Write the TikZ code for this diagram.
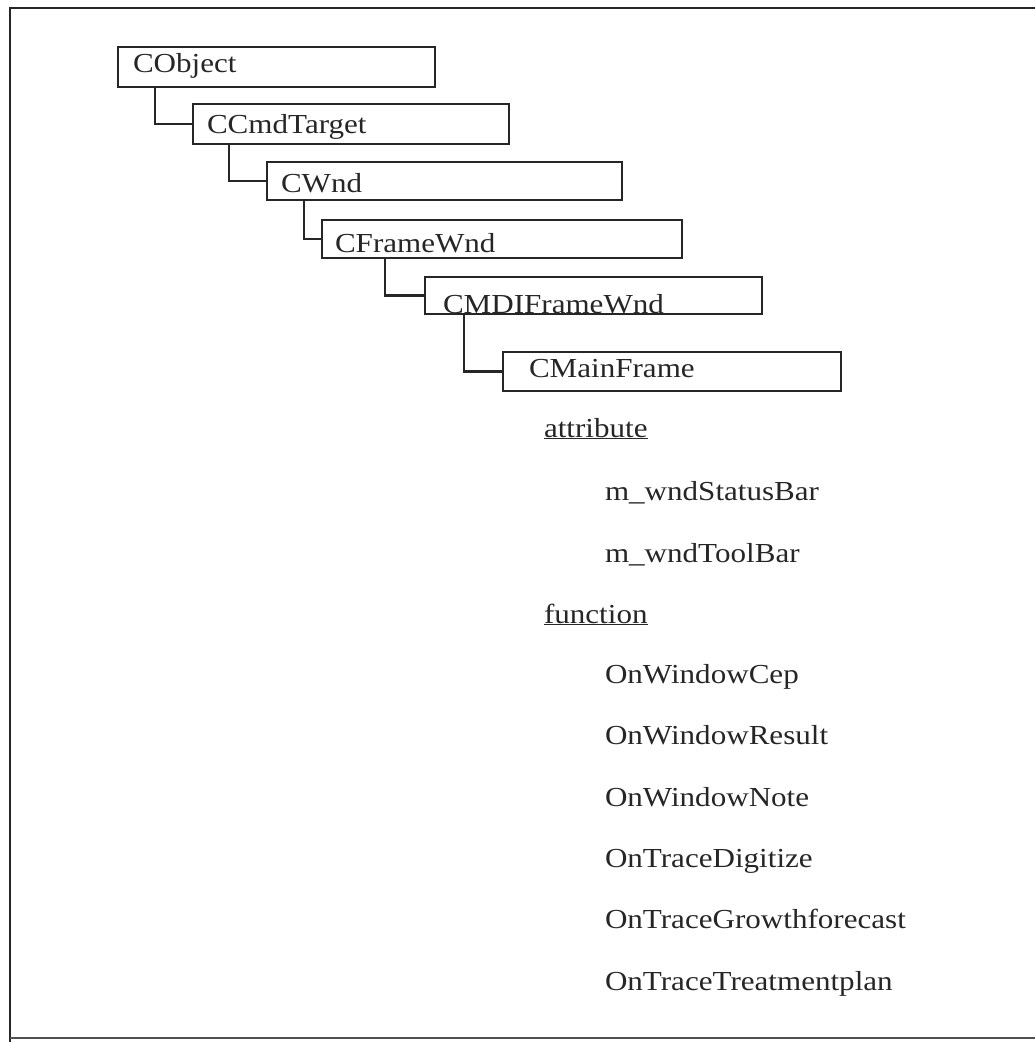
\documentclass[tikz,border=0pt]{standalone}
\usepackage{fontspec}
\setmainfont{Liberation Serif}[FakeStretch=1.13]
\definecolor{ink}{HTML}{262626}
\begin{document}
\begin{tikzpicture}[x=1pt,y=-1pt,
  every node/.style={text=ink, font=\fontsize{27.5}{30}\selectfont, inner sep=0pt, outer sep=0pt},
  cls/.style={draw=ink, anchor=north west, line width=2.2pt},
  title/.style={anchor=base west},
  member/.style={anchor=base west},
  link/.style={draw=ink, line width=2.2pt}]
\useasboundingbox (0,0) rectangle (1035,1042);

% outer frame (open on the right)
\draw[ink, line width=2pt] (1035,8) -- (10,8) -- (10,1042);
\draw[ink!80, line width=1.8pt] (10,1038) -- (1035,1038);

% class boxes
\node[cls, minimum width=317, minimum height=40] (obj)  at (118,47)  {};
\node[cls, minimum width=316, minimum height=40] (cmd)  at (193,104) {};
\node[cls, minimum width=355, minimum height=38] (wnd)  at (267,162) {};
\node[cls, minimum width=360, minimum height=38] (frm)  at (322,220) {};
\node[cls, minimum width=337, minimum height=37] (mdi)  at (425,277) {};
\node[cls, minimum width=338, minimum height=39] (main) at (503,352) {};

% class names
\node[title] (tobj)  at (133,72)  {CObject};
\node[title] (tcmd)  at (207,133) {CCmdTarget};
\node[title] (twnd)  at (281,192) {CWnd};
\node[title] (tfrm)  at (335,252) {CFrameWnd};
\node[title] (tmdi)  at (443,313) {CMDIFrameWnd};
\node[title] (tmain) at (529,377) {CMainFrame};

% inheritance links
\draw[link] ([xshift=37]obj.south west) |- (cmd.west);
\draw[link] ([xshift=36]cmd.south west) |- (wnd.west);
\draw[link] ([xshift=37]wnd.south west) |- (frm.west);
\draw[link] ([xshift=63]frm.south west) |- (mdi.west);
\draw[link] ([xshift=39]mdi.south west) |- (main.west);

% members of CMainFrame
\node[member] (attr) at (544,437) {\underline{attribute}};
\node[member] (m1)   at (605,500) {m\_wndStatusBar};
\node[member] (m2)   at (605,562) {m\_wndToolBar};
\node[member] (func) at (544,623) {\underline{function}};
\node[member] (f1)   at (605,683) {OnWindowCep};
\node[member] (f2)   at (605,744) {OnWindowResult};
\node[member] (f3)   at (605,806) {OnWindowNote};
\node[member] (f4)   at (605,867) {OnTraceDigitize};
\node[member] (f5)   at (605,928) {OnTraceGrowthforecast};
\node[member] (f6)   at (605,990) {OnTraceTreatmentplan};
\end{tikzpicture}
\end{document}
